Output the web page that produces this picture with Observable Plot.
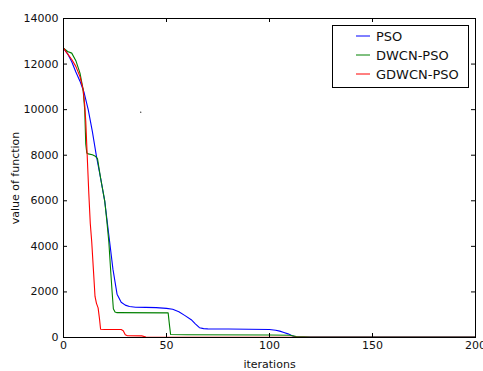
<!DOCTYPE html>
<html>
<head>
<meta charset="utf-8">
<script src="https://cdn.jsdelivr.net/npm/d3@7"></script>
<script src="https://cdn.jsdelivr.net/npm/@observablehq/plot@0.6"></script>
<style>
  html, body { margin: 0; padding: 0; background: #fff; }
  #wrap { position: relative; width: 483px; height: 371px; font-family: "DejaVu Sans", sans-serif; }
  #legend {
    position: absolute; left: 332px; top: 25px; width: 135px; height: 61px;
    border: 1px solid #000; background: #fff; font-size: 13px; color: #111;
  }
  .row { position: absolute; left: 0; height: 16px; display: flex; align-items: center; }
  .row svg { margin-left: 23px; margin-right: 6px; }
</style>
</head>
<body>
<div id="wrap"><div id="legend"></div></div>
<script>
// Convergence of the objective value over iterations
const psoIter = [0, 2, 4, 6, 8, 10, 12, 14, 16, 18, 20, 22, 24, 26, 28, 30, 32, 35, 40, 45, 50, 53, 56, 59, 62, 64, 66, 68, 70, 80, 90, 100, 103, 105, 107, 109, 111, 113, 120, 200];
const psoValue = [12700, 12450, 12100, 11650, 11250, 10750, 10000, 9050, 7950, 7000, 6000, 4500, 3000, 1900, 1550, 1420, 1360, 1330, 1320, 1310, 1280, 1240, 1130, 960, 780, 600, 430, 390, 380, 370, 360, 350, 320, 280, 220, 160, 80, 25, 20, 15];

const dwcnIter = [0, 2, 4, 6, 8, 9.5, 10.3, 10.8, 11.3, 12, 14, 15.5, 16.5, 18, 20, 21, 22, 23, 23.6, 24.2, 25, 26, 50.8, 51.5, 52, 60, 100, 110, 113, 120, 200];
const dwcnValue = [12700, 12550, 12480, 12150, 11600, 10900, 10000, 8500, 8100, 8060, 8020, 7950, 7850, 7000, 6000, 5150, 4200, 2800, 2000, 1260, 1120, 1090, 1080, 500, 130, 120, 110, 100, 40, 25, 15];

const gdwcnIter = [0, 2, 4, 6, 8, 9.5, 10.3, 10.8, 11.5, 12.3, 13, 13.7, 14.5, 15.3, 16, 16.8, 17.5, 18, 20, 28, 29, 30, 31, 38, 40, 45, 200];
const gdwcnValue = [12700, 12450, 12200, 11900, 11450, 10900, 10200, 9500, 8000, 6300, 5000, 4200, 3000, 1800, 1500, 1300, 800, 360, 350, 350, 300, 120, 80, 70, 20, 10, 5];

const strayIter = [37.5];
const strayValue = [9890];

const seriesNames = ["PSO", "DWCN-PSO", "GDWCN-PSO"];
const seriesColors = ["#0000ff", "#008000", "#ff0000"];

const xTicks = [0, 50, 100, 150, 200];
const yTicks = [0, 2000, 4000, 6000, 8000, 10000, 12000, 14000];

const W = 483, H = 371;
const mL = 63, mR = 8, mT = 18, mB = 34;
const innerW = W - mL - mR, innerH = H - mT - mB;
const tickLen = 4;

const toRows = (xs, ys) => xs.map((x, i) => ({iter: x, value: ys[i]}));
const series = [
  toRows(psoIter, psoValue),
  toRows(dwcnIter, dwcnValue),
  toRows(gdwcnIter, gdwcnValue)
];

const chart = Plot.plot({
  width: W, height: H,
  marginLeft: mL, marginRight: mR, marginTop: mT, marginBottom: mB,
  style: {fontFamily: "DejaVu Sans, sans-serif", fontSize: "11px", color: "#111", background: "#fff"},
  x: {domain: [0, 200]},
  y: {domain: [0, 14000]},
  marks: [
    ...series.map((rows, i) => Plot.line(rows, {x: "iter", y: "value", stroke: seriesColors[i], strokeWidth: 1.1})),
    Plot.dot(toRows(strayIter, strayValue), {x: "iter", y: "value", r: 0.6, fill: "#000", stroke: null}),
    Plot.frame({stroke: "#000", strokeWidth: 1}),
    // inward-pointing ticks on all four sides
    Plot.tickX(xTicks, {x: d => d, insetTop: innerH - tickLen, stroke: "#000"}),
    Plot.tickX(xTicks, {x: d => d, insetBottom: innerH - tickLen, stroke: "#000"}),
    Plot.tickY(yTicks, {y: d => d, insetRight: innerW - tickLen, stroke: "#000"}),
    Plot.tickY(yTicks, {y: d => d, insetLeft: innerW - tickLen, stroke: "#000"}),
    Plot.axisX({ticks: xTicks, tickSize: 0, tickPadding: 4, tickFormat: d => String(d),
      label: "iterations", labelAnchor: "center", labelArrow: "none", labelOffset: 30}),
    Plot.axisY({ticks: yTicks, tickSize: 0, tickPadding: 5, tickFormat: d => String(d),
      label: "value of function", labelAnchor: "center", labelArrow: "none", labelOffset: 52})
  ]
});
document.getElementById("wrap").prepend(chart);

// legend
const legend = document.getElementById("legend");
seriesNames.forEach((name, i) => {
  const row = document.createElement("div");
  row.className = "row";
  row.style.top = (2 + i * 19) + "px";
  row.innerHTML = `<svg width="14" height="2"><line x1="0" y1="1" x2="14" y2="1" stroke="${seriesColors[i]}" stroke-width="1"/></svg><span>${name}</span>`;
  legend.appendChild(row);
});
</script>
</body>
</html>
